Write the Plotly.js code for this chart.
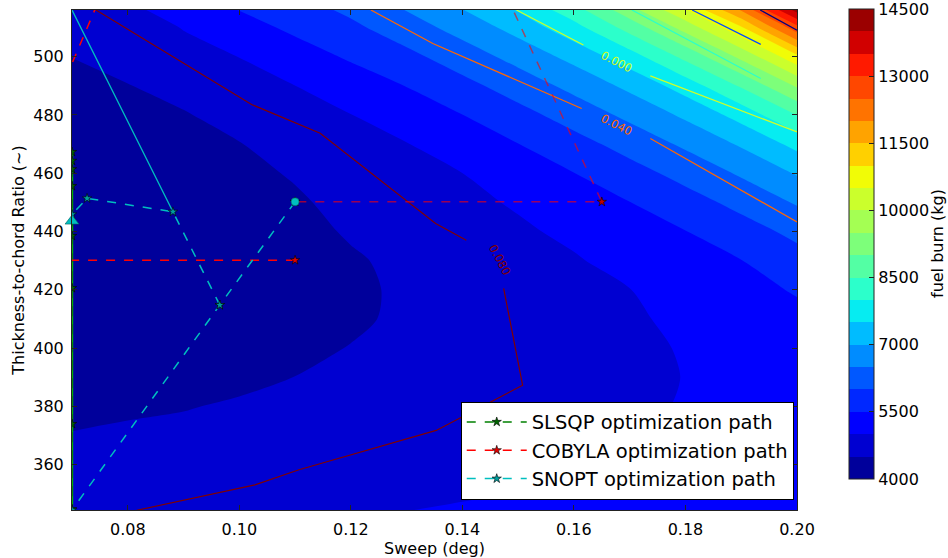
<!DOCTYPE html>
<html><head><meta charset="utf-8">
<script src="https://cdn.plot.ly/plotly-3.0.1.min.js"></script>
<style>body{margin:0;padding:0;background:#fff}#chart{width:948px;height:558px}</style>
</head><body><div id="chart"></div>
<script>
// ---- data ----
const sweep = [0.07,0.08,0.09,0.10,0.11,0.12,0.13,0.14,0.15,0.16,0.17,0.18,0.19,0.20];
const thickness = [344.5,350,360,370,380,390,400,410,420,430,440,450,460,470,480,490,500,510,516];
const fuelBurn = [
 [4845,4860,4880,4900,4930,4955,4995,5032,5063,5105,5150,5250,5300,5350],
 [4774,4794,4819,4844,4879,4912,4933,4970,5013,5062,5110,5196,5247,5298],
 [4637,4676,4707,4742,4785,4832,4833,4872,4929,4985,5045,5115,5169,5224],
 [4516,4558,4596,4640,4691,4753,4749,4794,4863,4922,4986,5057,5116,5175],
 [4413,4446,4480,4545,4597,4674,4682,4737,4816,4878,4943,5021,5086,5152],
 [4327,4351,4355,4414,4504,4594,4632,4699,4789,4855,4922,5008,5082,5161],
 [4258,4277,4257,4306,4401,4515,4599,4681,4780,4851,4923,5025,5116,5227],
 [4206,4222,4187,4231,4334,4427,4582,4684,4790,4867,4947,5082,5196,5353],
 [4170,4187,4145,4189,4302,4400,4583,4707,4819,4904,4992,5178,5321,5548],
 [4153,4171,4130,4181,4307,4444,4610,4749,4867,4960,5148,5314,5490,5814],
 [4152,4175,4143,4207,4349,4549,4663,4812,4934,5090,5320,5490,5795,6125],
 [4168,4198,4183,4266,4426,4660,4744,4895,5047,5291,5493,5804,6140,6549],
 [4201,4242,4251,4358,4549,4771,4850,4998,5270,5492,5816,6161,6564,7041],
 [4252,4304,4346,4484,4699,4881,4984,5245,5493,5826,6183,6588,7064,7652],
 [4319,4387,4469,4655,4848,4992,5239,5495,5839,6204,6616,7093,7687,8510],
 [4404,4489,4644,4829,4997,5264,5511,5853,6225,6641,7123,7727,8562,9560],
 [4505,4610,4828,5006,5292,5557,5871,6246,6667,7153,7777,8633,9619,10872],
 [4624,4752,5021,5319,5593,5895,6267,6691,7186,7820,8694,9695,10941,12833],
 [4703,4900,5200,5510,5780,6100,6517,6985,7535,8300,9300,10450,12040,14200]
];
const levelStart = 4000, levelEnd = 14500, levelStep = 500;
const cbTicks = [4000,5500,7000,8500,10000,11500,13000,14500];
const xTicks = [0.08,0.10,0.12,0.14,0.16,0.18,0.20];
const yTicks = [360,380,400,420,440,460,480,500];

// constraint contour lines (sweep, t/c) and their levels
const cLevels = ['-0.120','-0.080','-0.040','0.000','0.040','0.080'];
const cSweep = [
 [0.1934,0.2000],
 [0.1812,0.1935],
 [0.1704,0.1935],
 [0.1497,0.1617,null,0.1737,0.2000],
 [0.1236,0.1347,0.1614,null,0.1737,0.2000],
 [0.0743,0.1022,0.1145,0.1352,0.1407,null,0.1474,0.1508,0.1353,0.1107,0.1028,0.0816]
];
const cTC = [
 [516,509.1],
 [516,504.2],
 [516,492.5],
 [516,504.0,null,493.4,474.2],
 [516,504.5,482.2,null,471.9,443.3],
 [516,483.6,473.7,442.8,437.0,null,420.5,387.3,371.8,358.3,353.1,344.4]
];
const labelSweep = [0.1677,0.1677,0.1467];
const labelTC = [498.1,476.5,430.2];
const labelText = ['0.000','0.040','0.080'];
const edgeLabelSweep = [0.2015,0.2015];
const edgeLabelTC = [498.1,486.5];
const edgeLabelText = ['-0.080','-0.040'];

// optimization paths
const slsqpSweep = [0.07,0.07,0.07,0.07,0.07,0.07,0.07,0.07];
const slsqpTC = [420.6,344.8,467.3,374.0,464.3,438.5,461.4,455.6];
const cobylaSweepA = [0.110,0.055,0.110];
const cobylaTCA = [430.2,430.2,677.6];
const cobylaSweepB = [0.110,0.165,0.110];
const cobylaTCB = [677.6,450.2,450.2];
const snoptSweep = [0.110,0.0965,0.07,null,0.0965,0.0881,0.0727,0.07];
const snoptTC = [450.2,414.8,344.5,null,414.8,446.8,451.4,445.9];
const snoptSweepB = [0.0881,0.07];
const snoptTCB = [446.8,516];
const snoptStart = [0.110,450.2];
const snoptEnd = [0.07,443.6];

// ---- styling ----
const bandColors = ['rgb(0,0,155)','rgb(0,0,209)','rgb(0,0,255)','rgb(0,40,255)','rgb(0,88,255)',
 'rgb(0,140,255)','rgb(0,188,255)','rgb(6,236,241)','rgb(44,255,203)','rgb(83,255,164)',
 'rgb(125,255,122)','rgb(164,255,83)','rgb(203,255,44)','rgb(241,252,6)','rgb(255,208,0)',
 'rgb(255,163,0)','rgb(255,115,0)','rgb(255,71,0)','rgb(255,26,0)','rgb(209,0,0)','rgb(155,0,0)'];
const lineColors = ['rgb(0,0,128)','rgb(0,76,255)','rgb(41,255,206)','rgb(206,255,41)','rgb(255,104,0)','rgb(128,0,0)'];
const nBands = bandColors.length;
const nc = nBands + 1;
// colour map for the filled contour (plotly samples at band mid-levels)
const colorscale = [[0,bandColors[0]]];
bandColors.forEach((c,i)=>colorscale.push([(i+1)/nc, c]));
colorscale.push([1,bandColors[nBands-1]]);
// stepped colour map for the colour bar (4000..14500)
const stepScale = [];
bandColors.forEach((c,i)=>{ stepScale.push([i/nBands,c]); stepScale.push([(i+1)/nBands,c]); });
// tick positions nudged inside the bar so the end labels are kept
const cbTickPos = cbTicks.map((v,i)=> i===cbTicks.length-1 ? v-0.01 : v);

const font = 'DejaVu Sans, Bitstream Vera Sans, sans-serif';
const data = [];
data.push({
  type:'contour', x:sweep, y:thickness, z:fuelBurn,
  autocontour:false,
  contours:{start:levelStart,end:levelEnd,size:levelStep,coloring:'fill',showlines:false},
  line:{width:0,smoothing:0.8},
  colorscale:colorscale, showscale:false, showlegend:false, hoverinfo:'skip'
});
// colour bar carrier (cells lie outside the visible axis range)
data.push({
  type:'heatmap', x:[1.5,1.6], y:[2000,2001], z:[[levelStart,levelEnd],[levelStart,levelEnd]],
  zmin:levelStart, zmax:levelEnd, colorscale:stepScale, hoverinfo:'skip', showlegend:false,
  colorbar:{
    x:(849-72)/725, xanchor:'left', xpad:0,
    y:1.002, yanchor:'top', ypad:0,
    len:470, lenmode:'pixels', thickness:25,
    outlinewidth:1, outlinecolor:'#222',
    tickvals:cbTickPos, ticktext:cbTicks.map(String), ticks:'inside', ticklen:5, tickcolor:'#222',
    ticklabeloverflow:'allow',
    tickfont:{family:font,size:16,color:'#000'}
  }
});
cSweep.forEach((xs,i)=>{
  data.push({type:'scatter',mode:'lines',x:xs,y:cTC[i],connectgaps:false,
    line:{color:lineColors[i],width:1.2},showlegend:false,hoverinfo:'skip'});
});
data.push({type:'scatter',mode:'text',x:edgeLabelSweep,y:edgeLabelTC,text:edgeLabelText,
  textfont:{family:font,size:11.5,color:[lineColors[1],lineColors[2]]},cliponaxis:true,showlegend:false,hoverinfo:'skip'});

const starMarker = (c)=>({symbol:'star',size:7,color:c,line:{color:'#000',width:0.6}});
// repeated passes along the lower bound make the SLSQP line look solid
data.push({type:'scatter',mode:'lines',showlegend:false,x:slsqpSweep,y:slsqpTC,
  line:{color:'#00b000',width:2.4}});
data.push({type:'scatter',mode:'lines+markers',name:'SLSQP optimization path',
  x:slsqpSweep,y:slsqpTC,line:{color:'#008000',width:1.5,dash:'dash'},marker:starMarker('#006400')});
data.push({type:'scatter',mode:'lines+markers',name:'COBYLA optimization path',
  x:cobylaSweepA,y:cobylaTCA,line:{color:'#ff0000',width:1.5,dash:'dash'},marker:starMarker('#e00000')});
data.push({type:'scatter',mode:'lines+markers',name:'COBYLA tail',showlegend:false,
  x:cobylaSweepB,y:cobylaTCB,line:{color:'rgba(255,0,0,0.6)',width:1.5,dash:'dash'},marker:starMarker('#c00000')});
data.push({type:'scatter',mode:'lines',showlegend:false,
  x:snoptSweepB,y:snoptTCB,line:{color:'#00bfbf',width:1.3}});
data.push({type:'scatter',mode:'lines+markers',name:'SNOPT optimization path',connectgaps:false,
  x:snoptSweep,y:snoptTC,line:{color:'#00bfbf',width:1.5,dash:'dash'},marker:starMarker('#009c9c')});
data.push({type:'scatter',mode:'markers',showlegend:false,x:[snoptStart[0]],y:[snoptStart[1]],
  marker:{symbol:'circle',size:8,color:'#00bfbf',line:{color:'#006060',width:0.6}}});
data.push({type:'scatter',mode:'markers',showlegend:false,x:[snoptEnd[0]],y:[snoptEnd[1]],
  marker:{symbol:'triangle-up',size:12,color:'#00bfbf',line:{color:'#006060',width:0.6}},cliponaxis:false});

const annotations = labelText.map((t,i)=>({x:labelSweep[i],y:labelTC[i],xref:'x',yref:'y',text:t,showarrow:false,
  textangle:i===2?62:27,font:{family:font,size:11.5,color:lineColors[3+i]}}));
// colour bar title
annotations.push({xref:'paper',yref:'paper',x:(937-72)/725,y:(510-244)/500,text:'fuel burn (kg)',
  textangle:-90,showarrow:false,xanchor:'center',yanchor:'middle',font:{family:font,size:16,color:'#000'}});

const axisCommon = {ticks:'inside',ticklen:5,tickcolor:'#222',showline:true,linecolor:'#222',linewidth:1,
  mirror:'ticks',showgrid:false,zeroline:false,tickfont:{family:font,size:16,color:'#000'}};
const layout = {
  width:948,height:558,margin:{l:72,r:151,t:10,b:48,autoexpand:false},
  paper_bgcolor:'#fff',plot_bgcolor:'#fff',hovermode:false,
  font:{family:font,color:'#000'},
  xaxis:Object.assign({},axisCommon,{range:[0.07,0.2],tickvals:xTicks,tickformat:'.2f',ticklabelstandoff:5,
    title:{text:'Sweep (deg)',font:{family:font,size:16,color:'#000'},standoff:2}}),
  yaxis:Object.assign({},axisCommon,{range:[344.5,516],tickvals:yTicks,ticklabelstandoff:4,
    title:{text:'Thickness-to-chord Ratio (~)',font:{family:font,size:16,color:'#000'},standoff:4}}),
  legend:{x:0.9955,xanchor:'right',y:0.0206,yanchor:'bottom',bgcolor:'#fff',bordercolor:'#000',borderwidth:1,
    font:{family:font,size:19.5,color:'#000'},itemwidth:60},
  annotations:annotations
};
Plotly.newPlot('chart',data,layout,{displayModeBar:false,staticPlot:true});
</script></body></html>
